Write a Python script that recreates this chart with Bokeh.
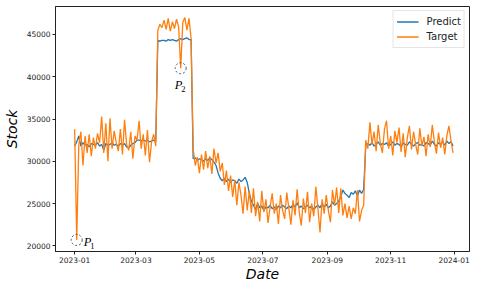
import pandas as pd
from bokeh.plotting import figure
from bokeh.models import Range1d, FixedTicker, DatetimeTickFormatter
from bokeh.core.properties import value
from bokeh.embed import file_html
from bokeh.resources import INLINE

start_date = "2023-01-01"
step_days = 2

predict_jan_mar = [31800, 32300, 33000, 31800, 32200, 31900, 32000, 31700, 32100, 32000,
                   31900, 32200, 31800, 32000, 31300, 32100, 31900, 32000, 32200, 31900,
                   32000, 31800, 32100, 31900, 32100, 31700, 31600, 31900, 32100, 32200,
                   32500, 32500, 32400, 32500, 32400, 32500, 32300, 32400, 32500, 32300]
target_jan_mar = [33800, 20700, 32000, 33500, 29500, 33000, 31000, 33200, 30600, 32800,
                  31500, 33300, 32200, 35300, 31000, 34500, 30000, 35100, 31500, 33600,
                  32200, 31200, 33800, 30800, 34900, 32000, 31300, 33500, 30300, 33000,
                  32500, 34800, 31500, 33200, 30700, 33700, 29900, 32300, 33200, 31800]

predict_mar_apr = [44300, 44200, 44300, 44300, 44200, 44400, 44300, 44400, 44300, 44200,
                   44400, 44500, 44400, 44500, 44600, 44400, 44400]
target_mar_apr = [45500, 46200, 45800, 46700, 45600, 46900, 45400, 46500, 45700, 46800,
                  45900, 41000, 46400, 47000, 45500, 46900, 44500]

predict_apr_jun = [30300, 30400, 30100, 30300, 30200, 30000, 30300, 30100, 30400, 30200,
                   29900, 29500, 28600, 28000, 27700, 28000, 27600, 27900, 27500, 27800,
                   27700, 27400, 27900, 27600, 27800, 28100, 27500, 26200, 25300]
target_apr_jun = [31500, 29500, 30500, 28600, 30800, 29000, 31200, 29200, 30600, 28500,
                  31500, 29800, 31000, 28800, 29800, 27200, 28900, 26500, 28300, 25800,
                  27800, 24800, 27500, 26000, 23800, 27000, 24200, 26500, 23900]

predict_jun_sep = [24800, 24300, 25000, 24500, 24700, 24200, 24600, 24500, 24800, 24400,
                   24600, 24300, 24700, 24500, 24800, 24600, 24400, 24700, 24500, 24900,
                   24600, 25100, 24500, 24700, 24400, 24600, 24800, 24500, 24700, 24300,
                   24600, 24800, 24500, 25000, 24600, 24900, 24500, 24700, 25200, 24800,
                   25000, 25300]
target_jun_sep = [26800, 23500, 25200, 22900, 26500, 24000, 25500, 22700, 24600, 26200,
                  23800, 25000, 22600, 26000, 24200, 23200, 26300, 24500, 22500, 25400,
                  23600, 26700, 24000, 22400, 25600, 23900, 26400, 22800, 25000, 23500,
                  27000, 24400, 21600, 25500, 23800, 26000, 24200, 22800, 26600, 24800,
                  26900, 23900]

predict_sep_oct = [25800, 26600, 26200, 26000, 25700, 26300, 26100, 26500, 25900, 26600,
                   26200, 26700]
target_sep_oct = [26800, 23600, 25000, 23300, 24700, 23200, 24500, 23800, 26600, 22900,
                  24200, 24800]

predict_oct_dec = [31800, 32100, 31900, 32200, 31800, 32000, 32300, 31900, 32100, 32000,
                   32200, 31800, 32000, 32300, 31900, 32100, 32000, 31700, 32200, 32000,
                   31900, 32300, 32000, 31800, 32100, 32200, 31900, 32000, 31800, 32200,
                   32100, 31900, 32400, 32000, 31800, 32200, 32000, 32300, 31900, 32400,
                   32100, 32300, 31800]
target_oct_dec = [32500, 31500, 34600, 32000, 33500, 31200, 34300, 32100, 31000, 33800,
                  34800, 31500, 33000, 30700, 33600, 32200, 34000, 31100, 33300, 30500,
                  32800, 34200, 31400, 33500, 32000, 30800, 33900, 31800, 32900, 30600,
                  33200, 31700, 34300, 32300, 30900, 33400, 31600, 32800, 30800, 33000,
                  34200, 32400, 31000]

y_ticks = [20000, 25000, 30000, 35000, 40000, 45000]
x_tick_labels = ["2023-01", "2023-03", "2023-05", "2023-07", "2023-09", "2023-11", "2024-01"]
point_labels = [("P", "1"), ("P", "2")]
point_index = [1, 51]

predict = (predict_jan_mar + predict_mar_apr + predict_apr_jun + predict_jun_sep
           + predict_sep_oct + predict_oct_dec)
target = (target_jan_mar + target_mar_apr + target_apr_jun + target_jun_sep
          + target_sep_oct + target_oct_dec)
n = min(len(predict), len(target))
predict = predict[:n]
target = target[:n]
dates = pd.date_range(start_date, periods=n, freq=f"{step_days}D")

p = figure(width=480, height=284, x_axis_type="datetime",
           output_backend="svg", toolbar_location=None,
           x_range=Range1d(pd.Timestamp("2022-12-13 14:00"), pd.Timestamp("2024-01-15 19:00")),
           y_range=Range1d(19334, 48306),
           min_border_left=55, min_border_right=11, min_border_top=6, min_border_bottom=30)

p.background_fill_color = "white"
p.border_fill_color = "white"
p.outline_line_color = "#222222"
p.outline_line_width = 1
p.xgrid.visible = False
p.ygrid.visible = False

p.line(dates, predict, line_color="#1f77b4", line_width=1.3, legend_label="Predict")
p.line(dates, target, line_color="#ff7f0e", line_width=1.3, legend_label="Target")

# dashed circles marking points
cx = [dates[i] for i in point_index]
cy = [target[i] for i in point_index]
p.scatter(cx, cy, marker="circle", size=11, fill_color=None,
          line_color="#3d5676", line_width=1, line_dash="2 2")

offsets = [(7, 2, 13.5, 6), (-6, 17, 0.5, 21)]
for (main, sub), i, (mx, my, sx, sy) in zip(point_labels, point_index, offsets):
    p.text(x=[dates[i]], y=[target[i]], text=[main], x_offset=mx, y_offset=my,
           text_font=value("Liberation Serif"), text_font_style="italic",
           text_font_size="12.5px", text_align="left", text_baseline="middle",
           text_color="black")
    p.text(x=[dates[i]], y=[target[i]], text=[sub], x_offset=sx, y_offset=sy,
           text_font=value("Liberation Serif"),
           text_font_size="8.5px", text_align="left", text_baseline="middle",
           text_color="black")

# axes
p.xaxis.ticker = FixedTicker(ticks=[pd.Timestamp(t + "-01").timestamp() * 1000 for t in x_tick_labels])
fmt = "%Y-%m"
p.xaxis.formatter = DatetimeTickFormatter(milliseconds=fmt, seconds=fmt, minsec=fmt, minutes=fmt,
                                          hourmin=fmt, hours=fmt, days=fmt, months=fmt, years=fmt)
p.yaxis.ticker = FixedTicker(ticks=y_ticks)

for ax in (p.xaxis, p.yaxis):
    ax.axis_line_color = "#222222"
    ax.major_tick_line_color = "#222222"
    ax.major_tick_out = 3
    ax.major_tick_in = 0
    ax.minor_tick_line_color = None
    ax.major_label_text_font = "DejaVu Sans"
    ax.major_label_text_font_size = "7.5px"
    ax.major_label_text_color = "#222222"
    ax.major_label_standoff = 2
    ax.axis_label_text_font = "DejaVu Sans"
    ax.axis_label_text_font_style = "italic"
    ax.axis_label_text_font_size = "14px"
    ax.axis_label_text_color = "black"
    ax.axis_label_standoff = 0

p.yaxis.axis_label_standoff = 4
p.xaxis.axis_label = "Date"
p.yaxis.axis_label = "Stock"

lg = p.legend[0]
lg.location = "top_right"
lg.label_text_font = "DejaVu Sans"
lg.label_text_font_size = "10px"
lg.label_text_color = "#222222"
lg.glyph_width = 22
lg.glyph_height = 15
lg.label_height = 15
lg.label_standoff = 8
lg.padding = 3
lg.spacing = 0
lg.margin = 4
lg.border_line_color = "#cccccc"
lg.border_line_width = 1
lg.background_fill_color = "white"
lg.background_fill_alpha = 0.8

open("out.html", "w").write(file_html(p, INLINE))
